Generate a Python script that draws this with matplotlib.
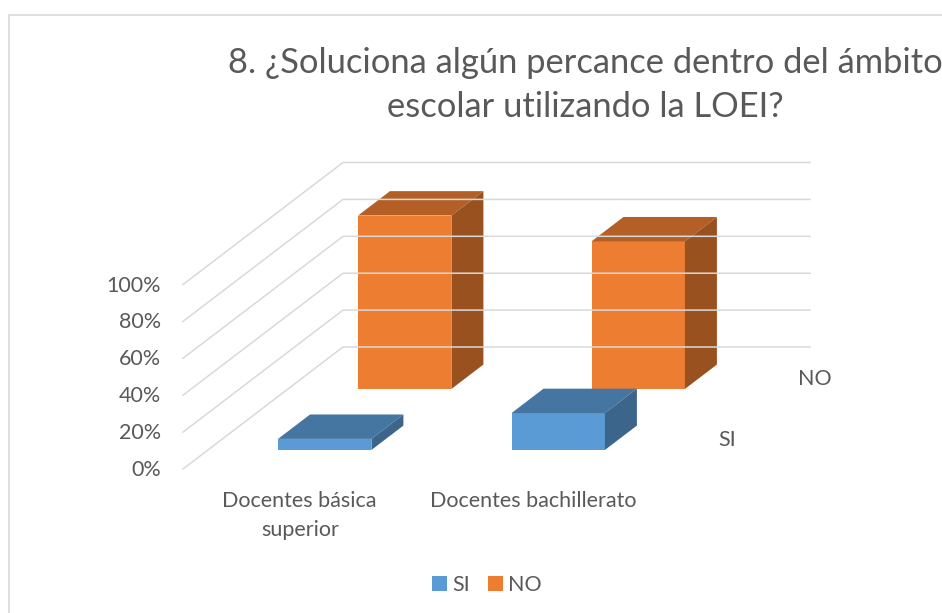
import matplotlib.pyplot as plt
from matplotlib.patches import Polygon, Patch

plt.rcParams['font.family'] = ['Lato', 'DejaVu Sans']

# data
categories = ['Docentes básica\nsuperior', 'Docentes bachillerato']
series = ['SI', 'NO']
si_vals = [6, 20]
no_vals = [94, 80]
ticks = [0, 20, 40, 60, 80, 100]
title = '8. ¿Soluciona algún percance dentro del ámbito\nescolar utilizando la LOEI?'

values = [si_vals, no_vals]
front_cols = ['#5B9BD5', '#ED7D31']
top_cols = ['#4576A2', '#B45F25']
side_cols = ['#3B658A', '#9A5120']
text_col = '#595959'
grid_col = '#D9D9D9'
fs = 15.5

# oblique projection of the chart box (pixel units)
X0, Y0 = 183, 469        # front-left floor corner
CAT_W = 233.5            # width of one category
VS = 1.845               # pixels per percent
DX, DY = 160, -122       # depth vector (front -> back)


def proj(xc, d, v):
    return (X0 + xc * CAT_W + d * DX, Y0 - v * VS + d * DY)


fig = plt.figure(figsize=(9.42, 6.13), dpi=100)
ax = fig.add_axes([0, 0, 1, 1])
ax.set_xlim(0, 942)
ax.set_ylim(613, 0)
ax.axis('off')

# chart border
ax.plot([9, 9, 942], [613, 15, 15], color=grid_col, lw=1.2, clip_on=False)

# gridlines: side wall and back wall
ncat = len(categories)
for t in ticks:
    p0 = proj(0, 0, t)
    p1 = proj(0, 1, t)
    p2 = proj(ncat, 1, t)
    ax.plot([p0[0], p1[0], p2[0]], [p0[1], p1[1], p2[1]], color=grid_col, lw=1.1)
    ax.text(p0[0] - 22, p0[1] + 1, f'{t}%', ha='right', va='center',
            fontsize=fs, color=text_col)

# bars, back row first
bar_w = 0.4
bar_d = 0.2
for j in reversed(range(len(series))):
    dc = (j + 0.5) / len(series) + 0.006
    d0, d1 = dc - bar_d / 2, dc + bar_d / 2
    for i in range(ncat):
        v = values[j][i]
        x0, x1 = i + 0.5 - bar_w / 2, i + 0.5 + bar_w / 2
        front = [proj(x0, d0, 0), proj(x1, d0, 0), proj(x1, d0, v), proj(x0, d0, v)]
        top = [proj(x0, d0, v), proj(x1, d0, v), proj(x1, d1, v), proj(x0, d1, v)]
        side = [proj(x1, d0, 0), proj(x1, d1, 0), proj(x1, d1, v), proj(x1, d0, v)]
        ax.add_patch(Polygon(front, closed=True, fc=front_cols[j], ec='none'))
        ax.add_patch(Polygon(top, closed=True, fc=top_cols[j], ec='none'))
        ax.add_patch(Polygon(side, closed=True, fc=side_cols[j], ec='none'))
    # depth axis label
    lx, ly = proj(ncat, dc, 0)
    ax.text(lx + 27, ly + 2, series[j], ha='left', va='center', fontsize=fs, color=text_col)

# category labels
for i, c in enumerate(categories):
    cx, cy = proj(i + 0.5, 0, 0)
    for k, line in enumerate(c.split('\n')):
        ax.text(cx, 507 + 29 * k, line, ha='center', va='baseline', fontsize=fs,
                color=text_col)

# title
for k, line in enumerate(title.split('\n')):
    ax.text(585, 73 + 44 * k, line, ha='center', va='baseline', fontsize=24.8,
            color=text_col)

# legend
handles = [Patch(facecolor=front_cols[k], label=series[k]) for k in range(len(series))]
ax.legend(handles=handles, ncol=2, loc='center', bbox_to_anchor=(487 / 942, 1 - 585 / 613),
          frameon=False, fontsize=fs, handlelength=0.7, handleheight=0.7,
          handletextpad=0.25, columnspacing=0.8, labelcolor=text_col)

fig.savefig('out.png', dpi=100)
